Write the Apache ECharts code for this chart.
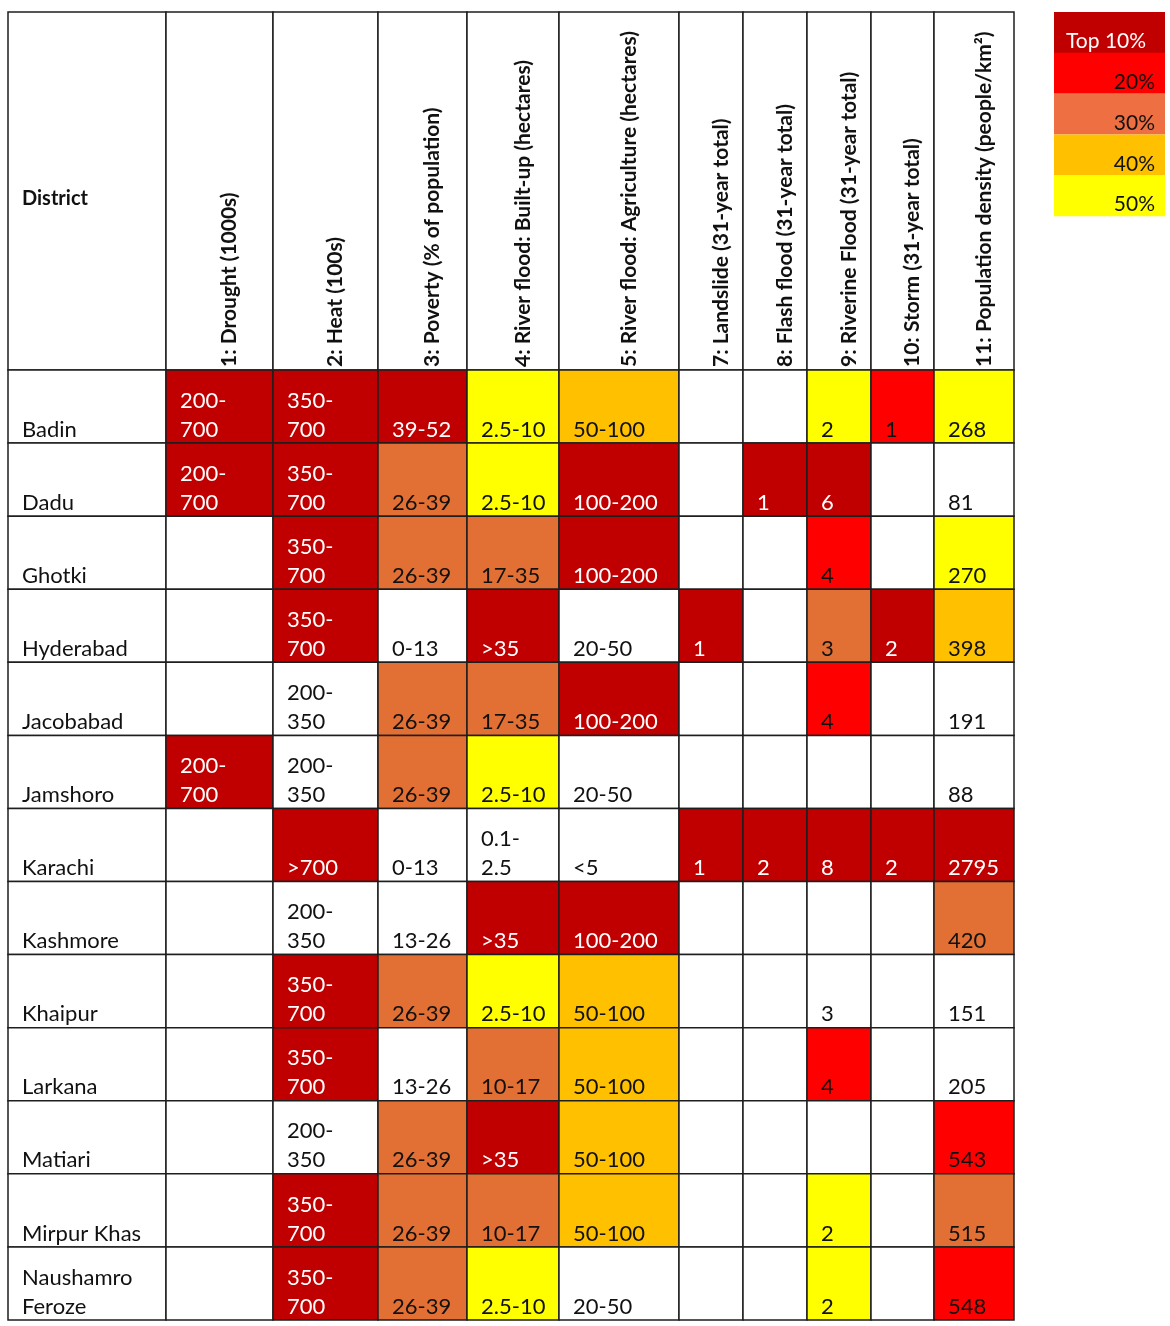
<!DOCTYPE html>
<html>
<head>
<meta charset="utf-8">
<script src="https://cdn.jsdelivr.net/npm/echarts@6/dist/echarts.min.js"></script>
<style>
html, body { margin: 0; padding: 0; background: #fff; }
#chart { width: 1170px; height: 1326px; }
</style>
</head>
<body>
<div id="chart"></div>
<script>
// districts (rows)
var districts = ['Badin', 'Dadu', 'Ghotki', 'Hyderabad', 'Jacobabad', 'Jamshoro', 'Karachi',
    'Kashmore', 'Khaipur', 'Larkana', 'Matiari', 'Mirpur Khas', 'Naushamro\nFeroze'];

// indicator headers (columns)
var headers = ['1: Drought (1000s)', '2: Heat (100s)', '3: Poverty (% of population)',
    '4: River flood: Built-up (hectares)', '5: River flood: Agriculture (hectares)',
    '7: Landslide (31-year total)', '8: Flash flood (31-year total)',
    '9: Riverine Flood (31-year total)', '10: Storm (31-year total)',
    '11: Population density (people/km²)'];

// cell values per indicator, and their level (1 = top 10% ... 5 = 50%, 0 = none)
var drought     = ['200-\n700', '200-\n700', '', '', '', '200-\n700', '', '', '', '', '', '', ''];
var droughtLvl  = [1, 1, 0, 0, 0, 1, 0, 0, 0, 0, 0, 0, 0];
var heat        = ['350-\n700', '350-\n700', '350-\n700', '350-\n700', '200-\n350', '200-\n350', '>700',
                   '200-\n350', '350-\n700', '350-\n700', '200-\n350', '350-\n700', '350-\n700'];
var heatLvl     = [1, 1, 1, 1, 0, 0, 1, 0, 1, 1, 0, 1, 1];
var poverty     = ['39-52', '26-39', '26-39', '0-13', '26-39', '26-39', '0-13', '13-26', '26-39', '13-26', '26-39', '26-39', '26-39'];
var povertyLvl  = [1, 3, 3, 0, 3, 3, 0, 0, 3, 0, 3, 3, 3];
var builtUp     = ['2.5-10', '2.5-10', '17-35', '>35', '17-35', '2.5-10', '0.1-\n2.5', '>35', '2.5-10', '10-17', '>35', '10-17', '2.5-10'];
var builtUpLvl  = [5, 5, 3, 1, 3, 5, 0, 1, 5, 3, 1, 3, 5];
var agri        = ['50-100', '100-200', '100-200', '20-50', '100-200', '20-50', '<5', '100-200', '50-100', '50-100', '50-100', '50-100', '20-50'];
var agriLvl     = [4, 1, 1, 0, 1, 0, 0, 1, 4, 4, 4, 4, 0];
var landslide   = ['', '', '', '1', '', '', '1', '', '', '', '', '', ''];
var landslideLvl= [0, 0, 0, 1, 0, 0, 1, 0, 0, 0, 0, 0, 0];
var flash       = ['', '1', '', '', '', '', '2', '', '', '', '', '', ''];
var flashLvl    = [0, 1, 0, 0, 0, 0, 1, 0, 0, 0, 0, 0, 0];
var riverine    = ['2', '6', '4', '3', '4', '', '8', '', '3', '4', '', '2', '2'];
var riverineLvl = [5, 1, 2, 3, 2, 0, 1, 0, 0, 2, 0, 5, 5];
var storm       = ['1', '', '', '2', '', '', '2', '', '', '', '', '', ''];
var stormLvl    = [2, 0, 0, 1, 0, 0, 1, 0, 0, 0, 0, 0, 0];
var density     = ['268', '81', '270', '398', '191', '88', '2795', '420', '151', '205', '543', '515', '548'];
var densityLvl  = [5, 0, 5, 4, 0, 0, 1, 3, 0, 0, 2, 3, 2];

// legend
var legendLabels = ['Top 10%', '20%', '30%', '40%', '50%'];

var levelColors = ['#ffffff', '#C00000', '#FF0000', '#E26F33', '#FFC000', '#FFFF00'];
var legendColors = ['#C00000', '#FF0000', '#EE7042', '#FFC000', '#FFFF00'];

var values = [drought, heat, poverty, builtUp, agri, landslide, flash, riverine, storm, density];
var levels = [droughtLvl, heatLvl, povertyLvl, builtUpLvl, agriLvl, landslideLvl, flashLvl, riverineLvl, stormLvl, densityLvl];

// column widths (layout), first is the district column
var colWidths = [158, 107, 105, 89, 92, 120, 64, 64, 64, 63, 80];
var edges = [0];
colWidths.forEach(function (w) { edges.push(edges[edges.length - 1] + w); });
var headerRows = 358 / 73.08;   // header height in row units

var FONT = 'Lato, "Open Sans", sans-serif';

// build cell data: [col, row, level, text]
var cellData = [];
districts.forEach(function (d, r) {
    cellData.push([0, r, 0, d]);
    values.forEach(function (arr, c) {
        cellData.push([c + 1, r, levels[c][r], arr[r]]);
    });
});
var headerData = [[0, 'District']];
headers.forEach(function (h, c) { headerData.push([c + 1, h]); });

function cellRender(params, api) {
    var c = api.value(0), r = api.value(1), lvl = api.value(2);
    var text = cellData[params.dataIndex][3];
    var p1 = api.coord([edges[c], r]);
    var p2 = api.coord([edges[c + 1], r + 1]);
    return {
        type: 'group',
        children: [{
            type: 'rect',
            shape: { x: p1[0], y: p1[1], width: p2[0] - p1[0], height: p2[1] - p1[1] },
            style: { fill: levelColors[lvl], stroke: '#1e1e1e', lineWidth: 1.5 }
        }, {
            type: 'text',
            x: p1[0] + 14,
            y: p2[1] + 1,
            style: {
                text: text,
                fill: lvl === 1 ? '#ffffff' : '#111111',
                font: '22px ' + FONT,
                lineHeight: 29,
                align: 'left',
                verticalAlign: 'bottom'
            }
        }]
    };
}

function headerRender(params, api) {
    var c = api.value(0);
    var text = headerData[params.dataIndex][1];
    var p1 = api.coord([edges[c], -headerRows]);
    var p2 = api.coord([edges[c + 1], 0]);
    var label;
    if (c === 0) {
        label = {
            type: 'text',
            x: p1[0] + 14,
            y: (p1[1] + p2[1]) / 2 + 8,
            style: { text: text, fill: '#111', font: 'bold 20px ' + FONT, align: 'left', verticalAlign: 'middle' }
        };
    } else {
        label = {
            type: 'text',
            x: (p1[0] + p2[0]) / 2 + 10,
            y: p2[1] - 3,
            rotation: Math.PI / 2,
            style: { text: text, fill: '#111', font: 'bold 21px ' + FONT, align: 'left', verticalAlign: 'middle' }
        };
    }
    return {
        type: 'group',
        children: [{
            type: 'rect',
            shape: { x: p1[0], y: p1[1], width: p2[0] - p1[0], height: p2[1] - p1[1] },
            style: { fill: '#fff', stroke: '#1e1e1e', lineWidth: 1.5 }
        }, label]
    };
}

// legend as graphic elements
var legendGraphics = [];
legendLabels.forEach(function (lab, i) {
    var top = 12 + i * 40.8;
    legendGraphics.push({
        type: 'rect', left: 1054, top: top,
        shape: { width: 111, height: 41 },
        style: { fill: legendColors[i] }
    });
    legendGraphics.push({
        type: 'text',
        left: i === 0 ? 1066 : null,
        right: i === 0 ? null : 1170 - 1155,
        top: top + 19,
        style: { text: lab, fill: i === 0 ? '#fff' : '#111', font: '21px ' + FONT }
    });
});

var chart = echarts.init(document.getElementById('chart'));
chart.setOption({
    animation: false,
    grid: { left: 8, top: 12, width: 1006, height: 1308 },
    xAxis: { type: 'value', min: 0, max: edges[edges.length - 1], show: false },
    yAxis: { type: 'value', min: -headerRows, max: districts.length, inverse: true, show: false },
    graphic: legendGraphics,
    series: [{
        type: 'custom',
        renderItem: headerRender,
        data: headerData.map(function (d) { return [d[0]]; }),
        encode: { x: 0 },
        silent: true
    }, {
        type: 'custom',
        renderItem: cellRender,
        data: cellData.map(function (d) { return [d[0], d[1], d[2]]; }),
        encode: { x: 0, y: 1 },
        silent: true
    }]
});
</script>
</body>
</html>
